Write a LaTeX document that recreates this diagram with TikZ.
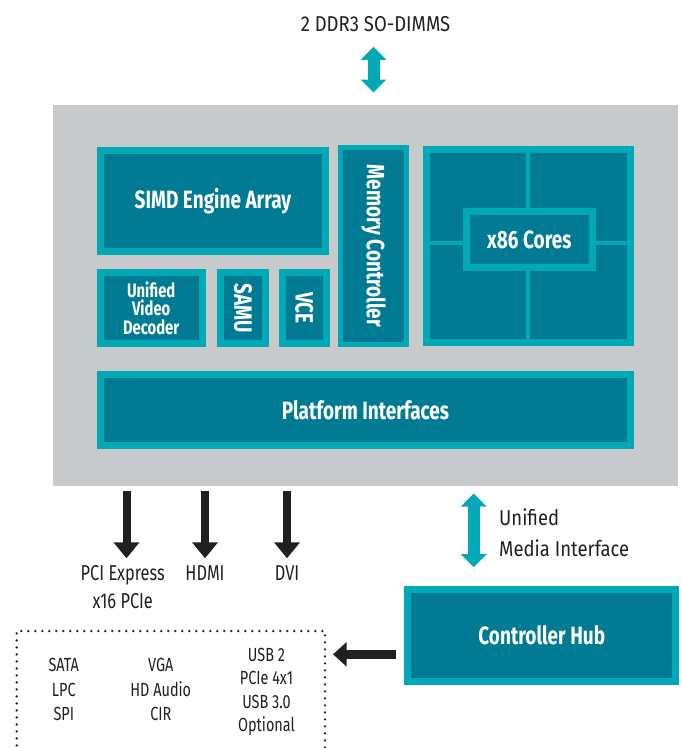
\documentclass[tikz,border=0pt]{standalone}
\usepackage{fontspec}
\setmainfont{Fira Sans}
\newfontfamily\dfont{Fira Sans}[FakeStretch=0.76]
\newfontfamily\wfont{Fira Sans}[FakeStretch=0.86]
\usetikzlibrary{arrows.meta}
\definecolor{tealL}{HTML}{00A9B5}
\definecolor{tealD}{HTML}{007B93}
\definecolor{grayBg}{HTML}{C8C9CB}
\definecolor{ink}{HTML}{231F20}
\newcommand\bxfont{\dfont\bfseries\fontsize{25}{26}\selectfont}
\newcommand\uvdfont{\dfont\bfseries\fontsize{19.5}{18.5}\selectfont}
\newcommand\labfont{\dfont\fontsize{21.5}{24}\selectfont}
\newcommand\widefont{\wfont\fontsize{21.5}{24}\selectfont}
\newcommand\smfont{\dfont\fontsize{19}{22}\selectfont}
\begin{document}
\begin{tikzpicture}[x=1pt,y=-1pt,
  blk/.style={draw=tealL, line width=7pt, fill=tealD, inner sep=0pt, text=white, font=\bxfont},
  lab/.style={inner sep=0pt, text=ink, anchor=base, font=\labfont, text height=15pt, text depth=0pt},
  sm/.style={inner sep=0pt, text=ink, anchor=base, font=\smfont},
  tarrow/.style={draw=tealL, line width=12pt, {Triangle[length=13pt,width=25pt]}-{Triangle[length=13pt,width=25pt]}},
  barrow/.style={draw=ink, line width=8pt, -{Triangle[length=16pt,width=25pt]}},
  larrow/.style={draw=ink, line width=9.5pt, -{Triangle[length=13.5pt,width=23.5pt]}},
  crossline/.style={draw=tealL, line width=4pt},
  dotbox/.style={draw=ink, line width=2.6pt, line cap=round, dash pattern=on 0pt off 7pt, inner sep=0pt}
]
\clip (0,0) rectangle (682,748);
% chip background
\node[fill=grayBg, inner sep=0pt, minimum width=625pt, minimum height=381pt] (chip) at (365.5,295.5) {};
% blocks
\node[blk, minimum width=225pt, minimum height=101pt] (simd) at (213,201) {SIMD Engine Array};
\node[blk, line width=5pt, rotate=-90, minimum width=196.7pt, minimum height=65.7pt] (mem) at (373.7,245.9) {Memory Controller};
\node[blk, minimum width=204.3pt, minimum height=193pt] (x86) at (528.35,246) {};
\coordinate (xc) at (527.7,242.7);
\draw[crossline] (x86.north -| xc) -- (x86.south -| xc);
\draw[crossline] (x86.west |- xc) -- (x86.east |- xc);
\node[blk, minimum width=126.3pt, minimum height=56.3pt] (core) at (529.35,239.65) {x86 Cores};
\node[blk, font=\uvdfont, align=center, minimum width=102pt, minimum height=70.7pt] (uvd) at (151.2,307.85) {Unified\\Video\\Decoder};
\node[blk, rotate=-90, minimum width=70.7pt, minimum height=44.4pt] (samu) at (243,307.85) {SAMU};
\node[blk, rotate=-90, minimum width=70.7pt, minimum height=44.3pt] (vce) at (304.35,307.85) {VCE};
\node[blk, minimum width=530pt, minimum height=71pt] (plat) at (365.5,410) {Platform Interfaces};
\node[blk, minimum width=268.3pt, minimum height=92pt] (hub) at (541.8,635.5) {Controller Hub};
% top memory link
\node[lab, font=\widefont] (ddr) at (375.5,31.7) {2 DDR3 SO-DIMMS};
\draw[tarrow, shorten <=15pt, shorten >=12.3pt] ([xshift=-2pt]ddr.south) -- ([xshift=-2pt]ddr.south |- chip.north);
% outputs
\node[lab] (pci) at (122.7,580) {PCI Express};
\node[lab] (pcib) at (122.8,608) {x16 PCIe};
\node[lab] (hdmi) at (205,580) {HDMI};
\node[lab] (dvi) at (287,580) {DVI};
\coordinate (pcix) at (126.5,0);
\draw[barrow, shorten <=5pt, shorten >=6.5pt] (chip.south -| pcix) -- (pcix |- pci.north);
\draw[barrow, shorten <=5pt, shorten >=6.5pt] (chip.south -| hdmi.north) -- (hdmi.north);
\draw[barrow, shorten <=5pt, shorten >=6.5pt] (chip.south -| dvi.north) -- (dvi.north);
% UMI
\node[lab, font=\widefont, anchor=base west] (umi) at (499,525) {Unified};
\node[lab, font=\widefont, anchor=base west] (umib) at (499,556.7) {Media Interface};
\coordinate (umix) at (473.8,0);
\draw[tarrow, shorten <=7.3pt, shorten >=18.8pt] (chip.south -| umix) -- (umix |- hub.north);
% ports box
\node[dotbox, minimum width=308.3pt, minimum height=200pt] (ports) at (170.85,731) {};
\coordinate (ly) at (0,654.3);
\draw[larrow, shorten <=8.65pt, shorten >=6.7pt] (hub.west |- ly) -- (ports.east |- ly);
\node[sm] (s1) at (63.8,671.7) {SATA};
\node[sm] (s2) at (63.8,696.7) {LPC};
\node[sm] (s3) at (63.8,720.7) {SPI};
\node[sm] (s4) at (160.8,671.7) {VGA};
\node[sm] (s5) at (160.8,696.7) {HD Audio};
\node[sm] (s6) at (160.8,720.7) {CIR};
\node[sm] (s7) at (266.5,661.7) {USB 2};
\node[sm] (s8) at (266.5,684.3) {PCIe 4x1};
\node[sm] (s9) at (266.5,708.3) {USB 3.0};
\node[sm] (s10) at (266.5,731.7) {Optional};
\end{tikzpicture}
\end{document}
